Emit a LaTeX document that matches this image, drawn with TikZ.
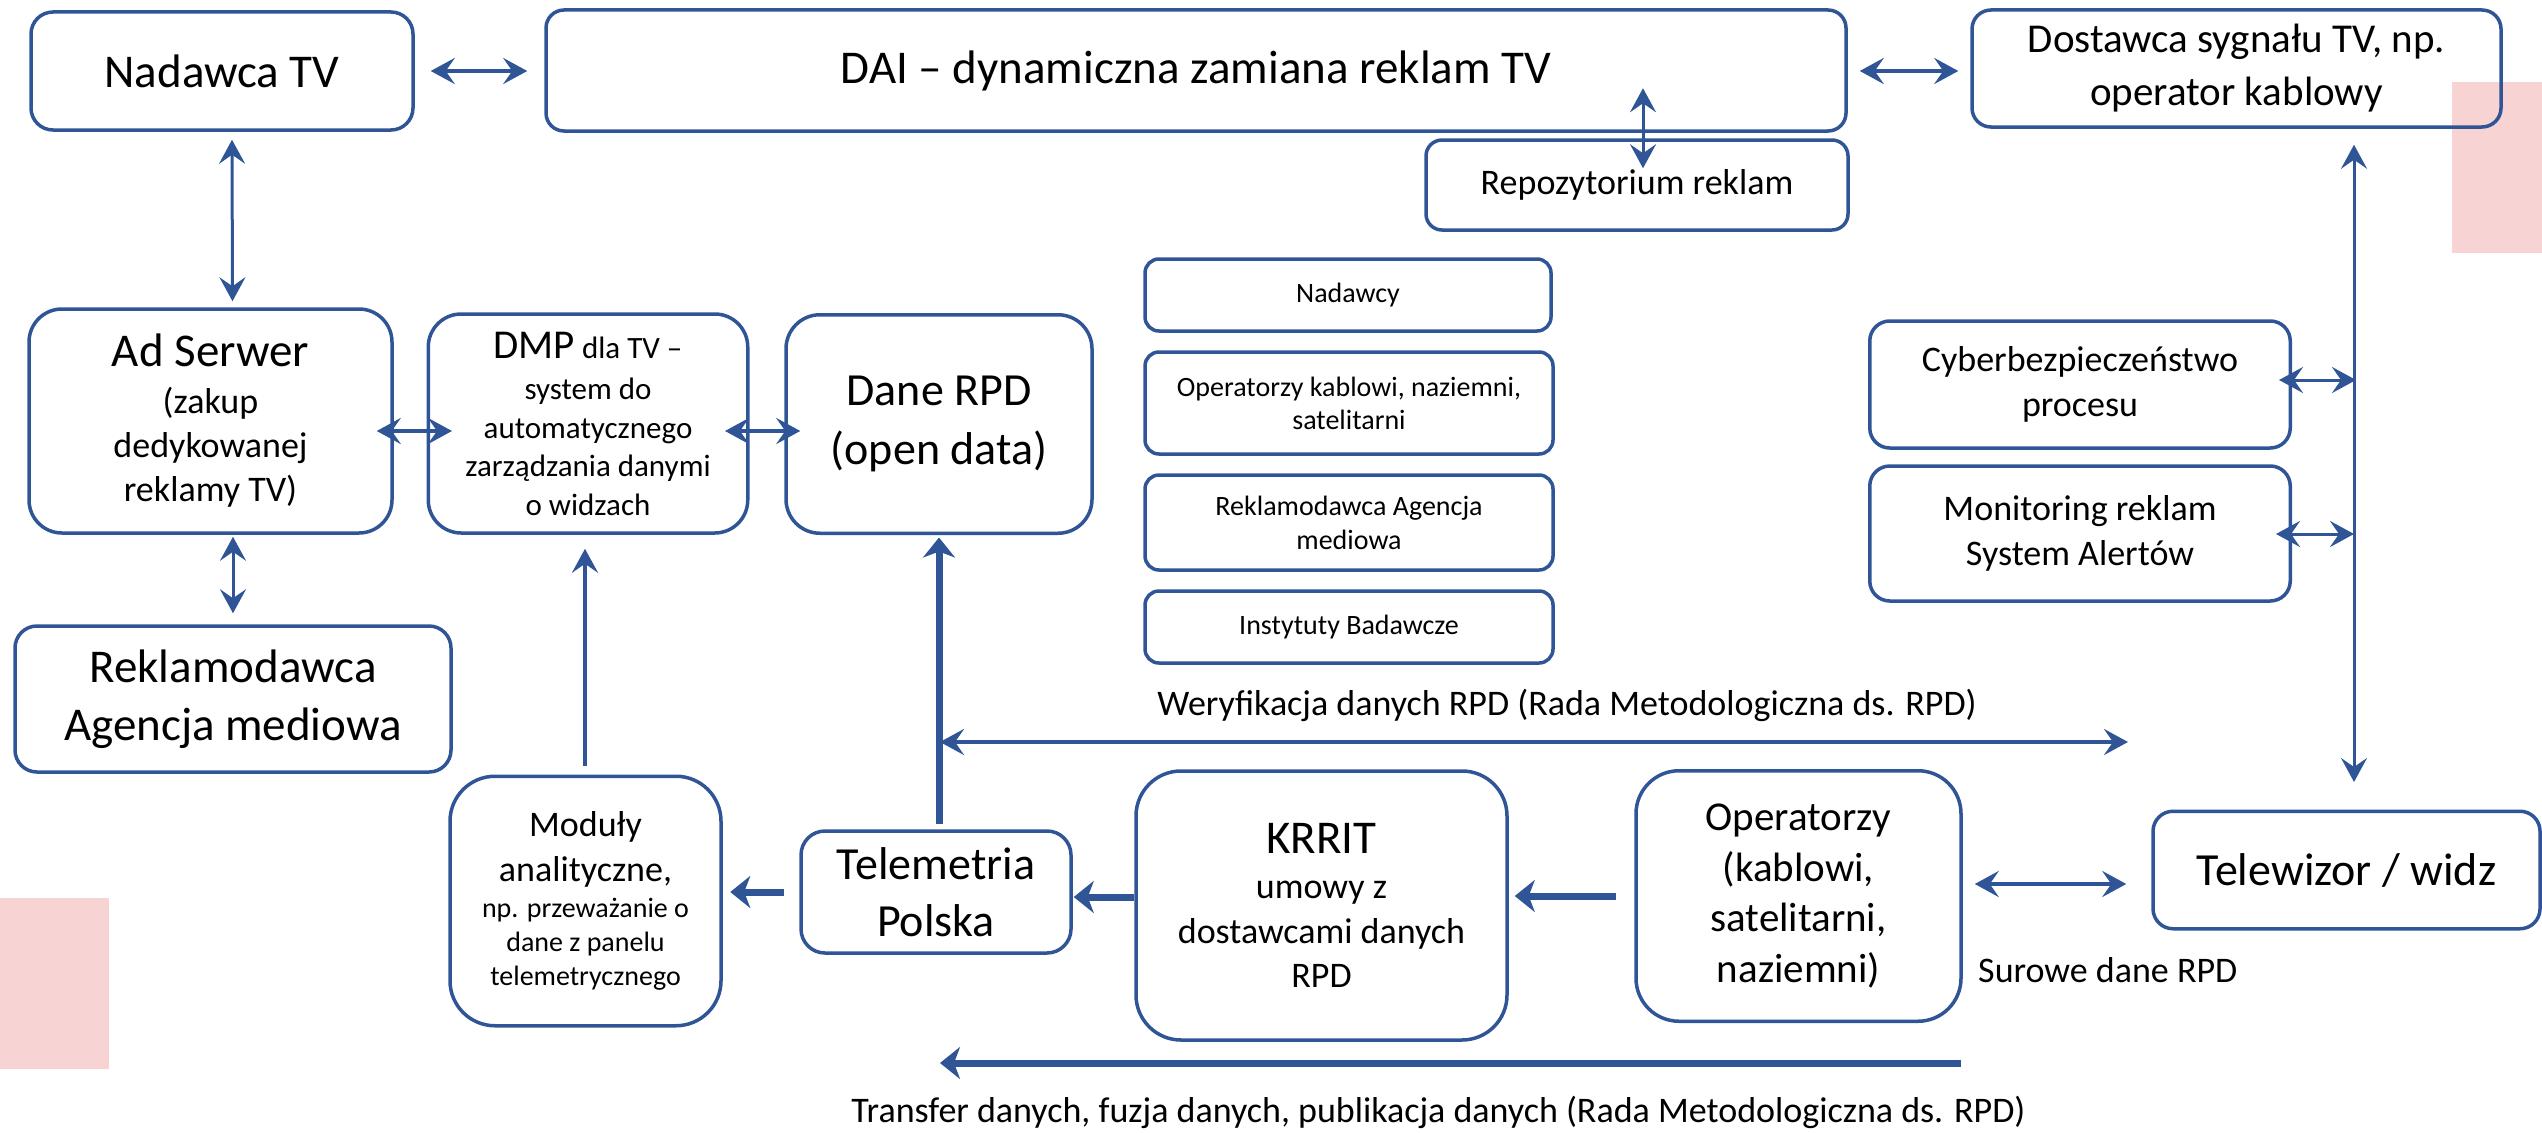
\documentclass[tikz,border=0pt]{standalone}
\usepackage{fontspec}
\setmainfont{Carlito}
\usetikzlibrary{arrows.meta,calc}
\definecolor{boxblue}{RGB}{47,85,151}
\definecolor{markpink}{RGB}{248,211,212}
\newcommand\setfs[2]{\fontsize{#1}{#2}\selectfont}
% keep line distances exactly at the baselineskip
\lineskiplimit=-1000pt
\begin{document}
\begin{tikzpicture}[x=1pt,y=-1pt,
  box/.style={draw=boxblue, line width=3.5pt, align=center, inner sep=0pt, text=black},
  lbl/.style={inner sep=0pt, text=black, font=\setfs{36}{44}},
  tipa/.tip={Stealth[length=24pt,width=26pt,inset=9pt]},
  tipb/.tip={Stealth[length=20pt,width=32pt,inset=6pt]},
  lnthin/.style={draw=boxblue, line width=3pt},
  lnmid/.style={draw=boxblue, line width=4.5pt},
  lnthick/.style={draw=boxblue, line width=7pt}]
\useasboundingbox (0,0) rectangle (2542,1132);

% pink marks
\fill[markpink] (2452,82) rectangle (2542,253);
\fill[markpink] (0,898) rectangle (109,1068.5);

% top row
\node[box, rounded corners=22pt, minimum width=382pt, minimum height=118pt, font=\setfs{47}{56}] (nad) at (222,71) {Nadawca TV};
\node[box, rounded corners=18pt, minimum width=1300pt, minimum height=121pt, font=\setfs{47}{56}] (dai) at (1196,70.5) {DAI – dynamiczna zamiana reklam TV};
\node[box, rounded corners=19pt, minimum width=529pt, minimum height=117pt, font=\setfs{41}{53}] (dost) at (2236.5,68.5) {Dostawca sygnału TV, np.\\operator kablowy};
\node[box, rounded corners=16pt, minimum width=422pt, minimum height=90pt, font=\setfs{36}{44}] (repo) at (1637,185) {Repozytorium reklam};

% middle row
\node[box, rounded corners=33pt, minimum width=363pt, minimum height=224pt, font=\setfs{36}{44}] (ad) at (210.5,421)
  {{\setfs{47}{56}Ad Serwer}\\[3pt](zakup\\dedykowanej\\reklamy TV)};
\node[box, rounded corners=33pt, minimum width=319.5pt, minimum height=219pt, font=\setfs{31}{38.5}] (dmp) at (588,423.5)
  {{\setfs{41}{49}DMP} dla TV –\\[3pt]system do\\automatycznego\\zarządzania danymi\\o widzach};
\node[box, rounded corners=34pt, minimum width=306pt, minimum height=218.5pt, font=\setfs{46}{59}] (dane) at (939,424) {Dane RPD\\(open data)};

% participants list
\node[box, rounded corners=14pt, minimum width=406pt, minimum height=72pt, font=\setfs{28}{33}] (nady) at (1348,295) {Nadawcy};
\node[box, rounded corners=14pt, minimum width=408pt, minimum height=102pt, font=\setfs{28}{33}] (ops) at (1349,403) {Operatorzy kablowi, naziemni,\\satelitarni};
\node[box, rounded corners=14pt, minimum width=408pt, minimum height=95pt, font=\setfs{28}{34}] (reks) at (1349,522.5) {Reklamodawca Agencja\\mediowa};
\node[box, rounded corners=14pt, minimum width=408pt, minimum height=72pt, font=\setfs{28}{33}] (inst) at (1349,627) {Instytuty Badawcze};

% right column
\node[box, rounded corners=20pt, minimum width=420.5pt, minimum height=127pt, font=\setfs{36}{45.5}] (cyber) at (2080,384.5) {Cyberbezpieczeństwo\\procesu};
\node[box, rounded corners=20pt, minimum width=420.5pt, minimum height=135pt, font=\setfs{36}{44.5}] (mon) at (2080,533.5) {Monitoring reklam\\System Alertów};

% lower part
\node[box, rounded corners=22pt, minimum width=436pt, minimum height=146pt, font=\setfs{47}{57.5}] (rekb) at (233,699) {Reklamodawca\\Agencja mediowa};
\node[box, rounded corners=45pt, minimum width=271pt, minimum height=249.5pt, font=\setfs{28}{34}] (mod) at (585.5,901)
  {{\setfs{36}{44}Moduły}\\[11pt]{\setfs{36}{44}analityczne,}\\[2.5pt]np. przeważanie o\\dane z panelu\\telemetrycznego};
\node[box, rounded corners=24pt, minimum width=270pt, minimum height=122pt, font=\setfs{46}{57.5}] (tel) at (936,892) {Telemetria\\Polska};
\node[box, rounded corners=45pt, minimum width=371pt, minimum height=269pt, font=\setfs{36}{44.5}] (krrit) at (1321.5,905.5)
  {{\setfs{47}{56}KRRIT}\\[1pt]umowy z\\dostawcami danych\\RPD};
\node[box, rounded corners=43pt, minimum width=325pt, minimum height=250.5pt, font=\setfs{41}{50.5}] (opb) at (1798.5,896)
  {Operatorzy\\(kablowi,\\satelitarni,\\naziemni)};
\node[box, rounded corners=20pt, minimum width=387pt, minimum height=117.5pt, font=\setfs{46}{56}] (tv) at (2346.5,870) {Telewizor / widz};

% labels
\node[lbl] (lblwer) at (1567,705) {Weryfikacja danych RPD (Rada Metodologiczna ds. RPD)};
\node[lbl] (lbltr) at (1438.5,1112) {Transfer danych, fuzja danych, publikacja danych (Rada Metodologiczna ds. RPD)};
\node[lbl, anchor=west] (lblsur) at (1978,970) {Surowe dane RPD};

% free ends of the long horizontal flows
\coordinate (werL) at (940,742);
\coordinate (werR) at (2128,742);
\coordinate (trR) at (1961,1063);
\coordinate (trL) at (940,1063);

% connectors
\draw[lnmid, tipa-tipa] ($(nad.east)+(16,0)$) -- ($(dai.west)+(-17,0.5)$);
\draw[lnmid, tipa-tipa] ($(dai.east)+(12,0.5)$) -- ($(dost.west)+(-12,2.5)$);
\draw[lnthin, tipa-tipa] ($(repo.north)+(6,-50)$) -- ($(repo.north)+(6,30)$);
\draw[lnthin, tipa-tipa] ($(nad.south)+(10,8)$) -- ($(ad.north)+(22,-6)$);
\draw[lnthin, tipa-tipa] ($(ad.south)+(22.5,2)$) -- ($(rekb.north)+(0,-11)$);
\draw[lnmid, tipa-tipa] ($(ad.east)+(-17,10)$) -- ($(dmp.west)+(25.5,7.5)$);
\draw[lnmid, tipa-tipa] ($(dmp.east)+(-24.5,7.5)$) -- ($(dane.west)+(16,7)$);
\draw[lnmid, -tipa] ($(mod.north)+(-0.5,-8.5)$) -- ($(dmp.south)+(-3,14)$);
\draw[lnthick, -tipb] ($(tel.north)+(3,-5)$) -- ($(dane.south)+(0,2.5)$);
\draw[lnthick, -tipb] ($(tel.west)+(-15,0)$) -- ($(mod.east)+(7.5,-9)$);
\draw[lnthick, -tipb] ($(krrit.west)+(0,-8.5)$) -- ($(tel.east)+(1,5)$);
\draw[lnthick, -tipb] ($(opb.west)+(-18,0)$) -- ($(krrit.east)+(6,-9.5)$);
\draw[lnmid, tipa-tipa] ($(opb.east)+(12,-12)$) -- ($(tv.west)+(-25,14)$);
\draw[lnthin, tipa-tipa] ($(dost.south)+(117.5,16)$) -- ($(tv.north)+(7.5,-27.5)$);
\draw[lnthin, tipa-tipa] ($(cyber.east)+(-13,-4.5)$) -- ($(cyber.east)+(64,-4.5)$);
\draw[lnthin, tipa-tipa] ($(mon.east)+(-16,0.5)$) -- ($(mon.east)+(62,0.5)$);
\draw[lnmid, tipa-tipa] (werL) -- (werR);
\draw[lnthick, -tipb] (trR) -- (trL);
\end{tikzpicture}
\end{document}
